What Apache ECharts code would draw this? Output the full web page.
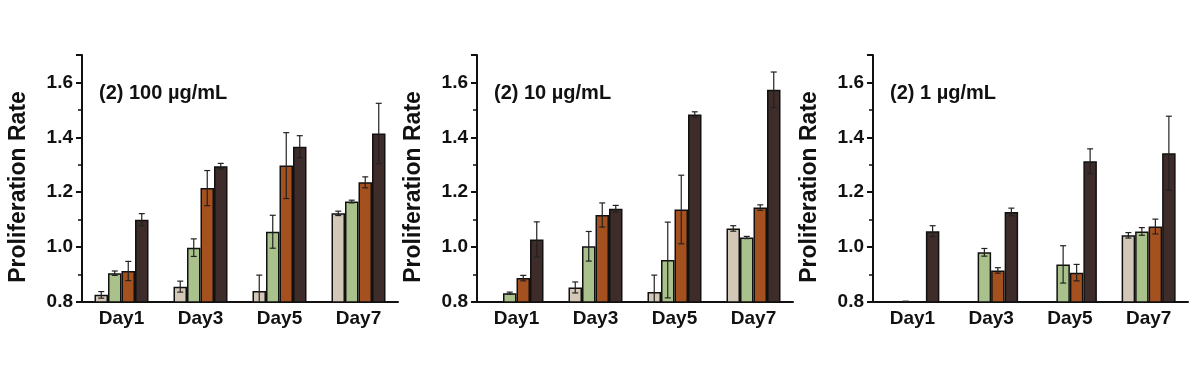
<!DOCTYPE html>
<html>
<head>
<meta charset="utf-8">
<script src="https://cdn.jsdelivr.net/npm/echarts@6/dist/echarts.min.js"></script>
<style>
html,body{margin:0;padding:0;background:#fff;}
#c{width:1200px;height:379px;}
</style>
</head>
<body>
<div id="c"></div>
<script>
const categories = ['Day1', 'Day3', 'Day5', 'Day7'];
const yTickLabels = [0.8, 1.0, 1.2, 1.4, 1.6];
const panelTitles = ['(2) 100 µg/mL', '(2) 10 µg/mL', '(2) 1 µg/mL'];
const yAxisTitle = 'Proliferation Rate';

// Panel 1: 100 µg/mL
const p1Beige = [0.826, 0.856, 0.840, 1.123];
const p1BeigeErr = [0.012, 0.020, 0.058, 0.008];
const p1Green = [0.905, 0.998, 1.056, 1.166];
const p1GreenErr = [0.008, 0.032, 0.060, 0.005];
const p1Orange = [0.913, 1.215, 1.297, 1.236];
const p1OrangeErr = [0.035, 0.064, 0.120, 0.020];
const p1Dark = [1.100, 1.295, 1.366, 1.414];
const p1DarkErr = [0.022, 0.010, 0.040, 0.110];

// Panel 2: 10 µg/mL
const p2Beige = [null, 0.853, 0.836, 1.068];
const p2BeigeErr = [0, 0.020, 0.062, 0.010];
const p2Green = [0.832, 1.003, 0.953, 1.035];
const p2GreenErr = [0.004, 0.054, 0.138, 0.004];
const p2Orange = [0.887, 1.117, 1.137, 1.144];
const p2OrangeErr = [0.010, 0.044, 0.125, 0.010];
const p2Dark = [1.028, 1.140, 1.483, 1.573];
const p2DarkErr = [0.064, 0.012, 0.010, 0.065];

// Panel 3: 1 µg/mL
const p3Beige = [null, null, null, 1.043];
const p3BeigeErr = [0, 0, 0, 0.010];
const p3Green = [0.800, 0.981, 0.937, 1.057];
const p3GreenErr = [0.003, 0.014, 0.068, 0.014];
const p3Orange = [null, 0.915, 0.907, 1.075];
const p3OrangeErr = [0, 0.010, 0.030, 0.027];
const p3Dark = [1.058, 1.128, 1.313, 1.342];
const p3DarkErr = [0.020, 0.014, 0.045, 0.135];

const colors = ['#d3c7b7', '#a9c28c', '#a5501f', '#3d2c2a'];
const FONT = 'Liberation Sans, Arial, sans-serif';
const BAR_W = 13.5;
const Y_MIN = 0.8, Y_MAX = 1.7;

const panels = [
  { vals: [p1Beige, p1Green, p1Orange, p1Dark], errs: [p1BeigeErr, p1GreenErr, p1OrangeErr, p1DarkErr] },
  { vals: [p2Beige, p2Green, p2Orange, p2Dark], errs: [p2BeigeErr, p2GreenErr, p2OrangeErr, p2DarkErr] },
  { vals: [p3Beige, p3Green, p3Orange, p3Dark], errs: [p3BeigeErr, p3GreenErr, p3OrangeErr, p3DarkErr] }
];
const gridLefts = [82, 477, 873];
const gridWidths = [316, 316, 315];

const grids = [], xAxes = [], yAxes = [], series = [], titles = [];
panels.forEach((p, pi) => {
  grids.push({ left: gridLefts[pi], width: gridWidths[pi], top: 55, height: 247 });
  xAxes.push({
    type: 'category', gridIndex: pi, data: categories,
    axisLine: { lineStyle: { color: '#111', width: 2 } },
    axisTick: { alignWithLabel: true, length: 5, lineStyle: { color: '#111', width: 2 } },
    axisLabel: { color: '#111', fontFamily: FONT, fontWeight: 'bold', fontSize: 19, margin: 7 }
  });
  yAxes.push({
    type: 'value', gridIndex: pi, min: Y_MIN, max: Y_MAX, interval: 0.2,
    name: yAxisTitle, nameLocation: 'middle', nameGap: 52,
    nameTextStyle: { color: '#111', fontFamily: FONT, fontWeight: 'bold', fontSize: 23, padding: [0, 17, 0, 0] },
    axisLine: { show: true, lineStyle: { color: '#111', width: 2 } },
    axisTick: { show: true, length: 6, lineStyle: { color: '#111', width: 2 } },
    minorTick: { show: true, splitNumber: 2, length: 4, lineStyle: { color: '#111', width: 1.5 } },
    splitLine: { show: false },
    axisLabel: {
      color: '#111', fontFamily: FONT, fontWeight: 'bold', fontSize: 19, margin: 9,
      formatter: v => yTickLabels.some(t => Math.abs(t - v) < 1e-6) ? v.toFixed(1) : ''
    }
  });
  titles.push({
    text: panelTitles[pi], left: gridLefts[pi] + 17, top: 83, padding: 0,
    textStyle: { color: '#111', fontFamily: FONT, fontWeight: 'bold', fontSize: 20 }
  });
  p.vals.forEach((arr, si) => {
    series.push({
      type: 'bar', xAxisIndex: pi, yAxisIndex: pi, data: arr,
      barWidth: BAR_W, barGap: '0%',
      itemStyle: { color: colors[si], borderColor: '#111', borderWidth: 1.5 },
      clip: true, silent: true
    });
  });
  const errData = [];
  p.vals.forEach((arr, si) => {
    arr.forEach((v, ci) => {
      if (v !== null && v !== undefined) errData.push([ci, v, p.errs[si][ci], si]);
    });
  });
  series.push({
    type: 'custom', xAxisIndex: pi, yAxisIndex: pi, data: errData, z: 5, silent: true,
    encode: { x: 0, y: 1 },
    renderItem: (params, api) => {
      const ci = api.value(0), v = api.value(1), e = api.value(2), si = api.value(3);
      const off = (si - 1.5) * BAR_W;
      const hi = Math.min(v + e, Y_MAX), lo = Math.max(v - e, Y_MIN);
      const pHi = api.coord([ci, hi]), pLo = api.coord([ci, lo]);
      const x = pHi[0] + off;
      const cap = 3;
      const style = { stroke: '#222', lineWidth: 1.2 };
      const children = [
        { type: 'line', shape: { x1: x, y1: pHi[1], x2: x, y2: pLo[1] }, style },
        { type: 'line', shape: { x1: x - cap, y1: pHi[1], x2: x + cap, y2: pHi[1] }, style }
      ];
      if (v - e >= Y_MIN) children.push({ type: 'line', shape: { x1: x - cap, y1: pLo[1], x2: x + cap, y2: pLo[1] }, style });
      return { type: 'group', children };
    }
  });
});

const chart = echarts.init(document.getElementById('c'), null, { renderer: 'canvas' });
chart.setOption({
  backgroundColor: '#fff',
  animation: false,
  title: titles,
  grid: grids,
  xAxis: xAxes,
  yAxis: yAxes,
  series: series
});
</script>
</body>
</html>
